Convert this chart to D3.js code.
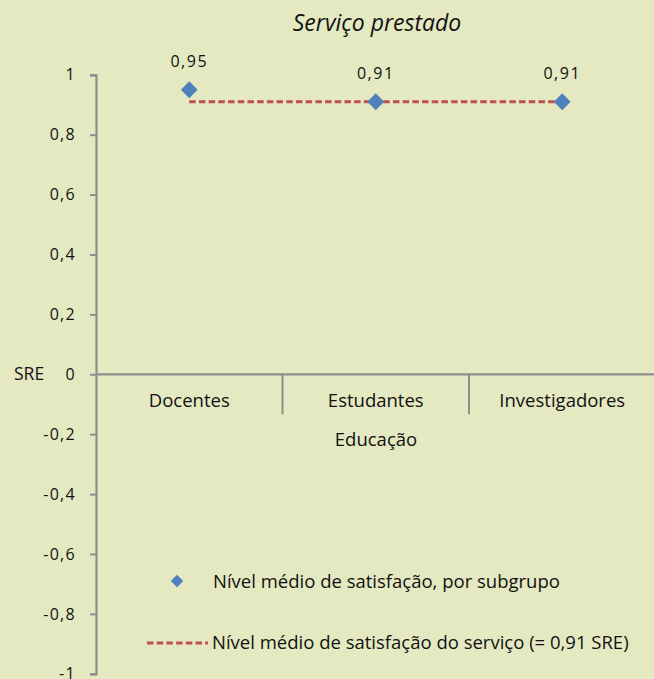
<!DOCTYPE html>
<html><head><meta charset="utf-8">
<script src="https://cdn.jsdelivr.net/npm/d3@7"></script>
<style>
body{margin:0;background:#E5E9C2;}
svg{display:block;}
text{font-family:"Open Sans",sans-serif;fill:#111;}
</style></head><body>
<div id="chart"></div>
<script>
const categories = ["Docentes","Estudantes","Investigadores"];
const groupLabel = "Educação";
const values = [0.95, 0.91, 0.91];
const valueLabels = ["0,95","0,91","0,91"];
const serviceMean = 0.91;
const yTicks = [1,0.8,0.6,0.4,0.2,0,-0.2,-0.4,-0.6,-0.8,-1];
const title = "Serviço prestado";
const yAxisTitle = "SRE";
const legendLabels = ["Nível médio de satisfação, por subgrupo","Nível médio de satisfação do serviço (= 0,91 SRE)"];

const W=654,H=679;
const svg=d3.select("#chart").append("svg").attr("width",W).attr("height",H);
svg.append("rect").attr("width",W).attr("height",H).attr("fill","#E5E9C2");

const y=d3.scaleLinear().domain([-1,1]).range([673.8,74.8]);
const x=d3.scaleBand().domain(categories).range([96,655.5]).padding(0);
const axisColor="#8E8E8E";
const fmt=d=>{
  if(d===0) return "0";
  const a=Math.abs(d);
  const s=a===1?"1":d3.format(".1f")(a).replace(".",",");
  return (d<0?"-":"")+s;
};

// y axis
const yAxis=d3.axisLeft(y).tickValues(yTicks).tickSize(6).tickPadding(14).tickFormat(fmt);
const gy=svg.append("g").attr("transform","translate(96,0)").call(yAxis);
gy.select(".domain").attr("stroke",axisColor).attr("stroke-width",2.2);
gy.selectAll(".tick line").attr("stroke",axisColor).attr("stroke-width",2);
gy.selectAll(".tick text").attr("font-size",16).attr("letter-spacing","1.3px")
  .attr("font-family","'Open Sans',sans-serif").attr("fill","#111");

// x axis line at 0
svg.append("line").attr("x1",96).attr("x2",W).attr("y1",y(0)).attr("y2",y(0))
  .attr("stroke",axisColor).attr("stroke-width",2.2);
// category dividers
categories.slice(1).forEach(c=>{
  svg.append("line").attr("x1",x(c)).attr("x2",x(c)).attr("y1",y(0)).attr("y2",y(0)+40)
    .attr("stroke",axisColor).attr("stroke-width",2);
});
const cx=d=>x(d)+x.bandwidth()/2;
svg.append("g").selectAll("text").data(categories).join("text")
  .attr("x",d=>cx(d)).attr("y",y(0)+33).attr("text-anchor","middle")
  .attr("font-size",18.5).text(d=>d);
svg.append("text").attr("x",376).attr("y",y(0)+72).attr("text-anchor","middle")
  .attr("font-size",18.5).text(groupLabel);

svg.append("text").attr("x",14).attr("y",y(0)+6).attr("font-size",17.5).text(yAxisTitle);

// title
svg.append("text").attr("x",377).attr("y",31).attr("text-anchor","middle")
  .attr("font-size",23).attr("font-style","italic").text(title);

// mean line
svg.append("line").attr("x1",cx(categories[0])).attr("x2",cx(categories[2]))
  .attr("y1",y(serviceMean)).attr("y2",y(serviceMean))
  .attr("stroke","#C0504D").attr("stroke-width",3.2).attr("stroke-dasharray","6.5,3.2");

// markers
const diamond=d3.symbol().type(d3.symbolDiamond2).size(180);
svg.append("g").selectAll("path").data(values).join("path")
  .attr("transform",(d,i)=>`translate(${cx(categories[i])},${y(d)})`)
  .attr("d",diamond).attr("fill","#4F81BD");
svg.append("g").selectAll("text").data(values).join("text")
  .attr("x",(d,i)=>cx(categories[i])).attr("y",d=>y(d)-23).attr("text-anchor","middle")
  .attr("font-size",16).attr("letter-spacing","1.5px").text((d,i)=>valueLabels[i]);

// legend
svg.append("path").attr("transform","translate(177,581)").attr("d",d3.symbol().type(d3.symbolDiamond2).size(100)).attr("fill","#4F81BD");
svg.append("text").attr("x",213).attr("y",588).attr("font-size",18.5).text(legendLabels[0]);
svg.append("line").attr("x1",147).attr("x2",208).attr("y1",643).attr("y2",643)
  .attr("stroke","#C0504D").attr("stroke-width",3.2).attr("stroke-dasharray","6.5,3.2");
svg.append("text").attr("x",212).attr("y",649).attr("font-size",18.5).text(legendLabels[1]);
</script></body></html>
